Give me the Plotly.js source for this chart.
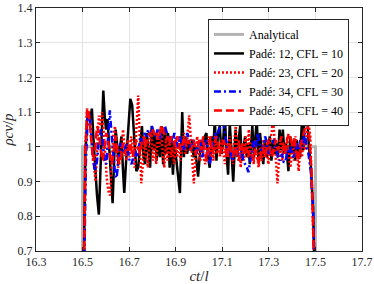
<!DOCTYPE html>
<html>
<head>
<meta charset="utf-8">
<script src="https://cdn.plot.ly/plotly-3.0.1.min.js"></script>
<style>html,body{margin:0;padding:0;background:#fff;}#chart{width:374px;height:284px;}</style>
</head>
<body>
<div id="chart"></div>
<script>
const seriesNames = ["Analytical", "Padé: 12, CFL = 10", "Padé: 23, CFL = 20", "Padé: 34, CFL = 30", "Padé: 45, CFL = 40"];
const xTicks = [16.3, 16.5, 16.7, 16.9, 17.1, 17.3, 17.5, 17.7];
const yTicks = [0.7, 0.8, 0.9, 1.0, 1.1, 1.2, 1.3, 1.4];
const yTickLabels = ["0.7", "0.8", "0.9", "1", "1.1", "1.2", "1.3", "1.4"];

const analyticalX = [16.3, 16.5, 16.5, 17.5, 17.5, 17.7];
const analyticalY = [0, 0, 1, 1, 0, 0];

const pade12 = [
[16.504,0.60],[16.512,0.98],[16.520,1.08],[16.527,1.10],[16.533,1.08],[16.540,1.11],[16.547,1.02],[16.554,0.93],[16.562,0.86],[16.570,0.805],
[16.577,0.92],[16.583,1.04],[16.589,1.162],[16.595,1.09],[16.601,1.05],[16.607,1.08],[16.614,0.99],[16.621,0.90],[16.629,0.838],[16.636,0.97],
[16.642,1.05],[16.648,1.01],[16.654,0.95],[16.661,1.00],[16.667,1.03],[16.673,0.94],[16.679,0.867],[16.687,0.96],[16.696,1.06],[16.705,1.138],
[16.713,1.12],[16.721,1.02],[16.731,0.93],[16.739,0.94],[16.747,1.01],[16.755,1.06],[16.762,0.97],[16.769,0.95],[16.776,1.04],[16.783,0.98],
[16.790,0.94],[16.797,1.06],[16.804,0.99],[16.811,1.04],[16.818,0.96],[16.825,1.03],[16.832,0.97],[16.839,1.06],[16.846,0.95],[16.853,1.05],
[16.860,0.98],[16.867,1.04],[16.874,0.94],[16.881,1.03],[16.888,0.92],[16.895,1.01],[16.902,0.97],[16.910,0.91],[16.918,0.867],[16.928,1.10],
[16.935,0.97],[16.942,1.03],[16.949,0.98],[16.956,1.01],[16.963,0.99],[16.970,1.02],[16.977,0.97],[16.983,1.00],[16.990,0.95],[16.996,0.914],
[17.004,0.98],[17.011,1.02],[17.018,0.99],[17.025,1.03],[17.032,1.04],[17.039,0.97],[17.046,0.94],[17.054,1.03],[17.061,0.99],[17.068,1.08],
[17.075,0.96],[17.082,1.04],[17.089,1.06],[17.097,0.98],[17.104,1.02],[17.111,1.09],[17.118,0.98],[17.125,0.92],[17.132,1.07],[17.140,0.98],
[17.147,0.90],[17.157,1.05],[17.164,0.97],[17.170,1.02],[17.177,1.06],[17.184,0.96],[17.191,1.00],[17.198,1.03],[17.205,0.97],[17.212,1.01],
[17.218,0.95],[17.229,1.06],[17.236,0.97],[17.242,1.02],[17.248,1.08],[17.255,0.96],[17.262,1.04],[17.269,0.99],[17.276,0.95],[17.283,1.02],
[17.290,0.97],[17.297,1.00],[17.304,1.03],[17.311,0.96],[17.318,1.02],[17.325,0.98],[17.332,1.01],[17.339,0.97],[17.346,1.05],[17.353,0.99],
[17.360,1.05],[17.367,0.98],[17.374,1.01],[17.384,0.93],[17.392,1.03],[17.399,0.98],[17.406,1.01],[17.413,0.96],[17.420,1.02],[17.427,0.98],
[17.434,0.97],[17.441,1.06],[17.448,0.99],[17.457,1.17],[17.465,1.06],[17.472,1.00],[17.480,0.95],[17.490,0.82],[17.497,0.60]
];

const pade23 = [
[16.505,0.60],[16.512,1.00],[16.519,1.11],[16.526,1.10],[16.533,1.05],[16.540,1.00],[16.548,0.94],[16.556,0.90],[16.563,1.00],[16.570,1.09],
[16.577,1.06],[16.584,1.10],[16.591,1.04],[16.598,0.96],[16.605,0.90],[16.612,0.87],[16.618,0.86],[16.625,0.95],[16.632,1.03],[16.639,1.06],
[16.646,0.98],[16.653,0.94],[16.660,0.97],[16.667,1.00],[16.674,1.05],[16.681,0.99],[16.688,0.96],[16.695,1.02],[16.702,0.97],[16.709,1.03],
[16.716,1.00],[16.723,0.94],[16.731,1.05],[16.739,1.148],[16.747,1.00],[16.752,0.895],[16.760,0.96],[16.767,1.03],[16.774,0.97],[16.781,0.94],
[16.788,1.02],[16.795,1.05],[16.802,0.96],[16.809,1.01],[16.816,0.95],[16.823,1.04],[16.830,1.00],[16.837,1.06],[16.844,0.98],[16.851,0.94],
[16.858,1.02],[16.865,0.96],[16.872,1.03],[16.879,0.97],[16.886,1.00],[16.893,0.95],[16.900,1.02],[16.907,0.97],[16.914,1.03],[16.921,0.96],
[16.928,1.00],[16.935,1.04],[16.942,0.98],[16.949,1.02],[16.958,1.091],[16.966,1.00],[16.978,0.895],[16.985,0.97],[16.992,1.03],[16.999,0.98],
[17.006,0.96],[17.013,1.02],[17.020,0.97],[17.027,0.95],[17.034,1.00],[17.041,1.03],[17.048,0.97],[17.055,1.01],[17.062,0.96],[17.069,1.04],
[17.076,0.98],[17.083,1.01],[17.090,0.97],[17.097,1.02],[17.104,0.99],[17.111,0.95],[17.118,1.01],[17.125,0.97],[17.132,1.03],[17.139,0.99],
[17.146,0.95],[17.152,1.02],[17.158,1.06],[17.165,0.97],[17.172,1.02],[17.179,0.94],[17.186,1.01],[17.193,0.96],[17.200,1.03],[17.207,0.98],
[17.214,1.05],[17.221,0.97],[17.228,1.01],[17.235,0.95],[17.242,1.02],[17.249,0.98],[17.256,0.94],[17.263,1.00],[17.270,0.96],[17.277,1.02],
[17.284,0.97],[17.291,1.00],[17.298,0.95],[17.305,1.02],[17.312,1.04],[17.318,1.086],[17.326,0.99],[17.337,0.895],[17.344,0.97],[17.351,1.02],
[17.358,0.96],[17.365,1.01],[17.372,0.98],[17.379,1.03],[17.386,0.97],[17.393,0.94],[17.400,1.01],[17.407,0.96],[17.414,1.03],[17.421,0.98],
[17.428,0.93],[17.435,1.00],[17.442,0.97],[17.449,1.02],[17.456,0.99],[17.463,1.04],[17.470,1.07],[17.478,1.03],[17.488,0.85],[17.497,0.60]
];

const pade34 = [
[16.506,0.60],[16.514,0.95],[16.522,1.08],[16.529,1.10],[16.536,1.05],[16.544,0.97],[16.553,0.93],[16.562,0.96],[16.570,1.02],[16.578,1.05],
[16.586,1.02],[16.594,0.96],[16.602,0.95],[16.610,1.04],[16.617,1.105],[16.624,1.04],[16.632,0.97],[16.640,0.92],[16.646,0.91],[16.654,0.96],
[16.662,1.01],[16.670,1.00],[16.678,0.98],[16.686,1.01],[16.694,0.99],[16.702,0.96],[16.710,0.95],[16.718,0.97],[16.726,0.99],[16.734,0.97],
[16.742,1.00],[16.750,1.03],[16.758,1.01],[16.766,1.04],[16.774,1.03],[16.782,1.05],[16.790,1.03],[16.798,1.06],[16.806,1.04],[16.814,1.03],
[16.822,1.05],[16.830,1.02],[16.838,1.04],[16.846,1.05],[16.854,1.06],[16.862,1.04],[16.870,1.02],[16.878,1.03],[16.886,1.01],[16.894,1.04],
[16.902,1.02],[16.910,1.00],[16.918,1.03],[16.926,1.01],[16.934,0.99],[16.942,1.02],[16.950,1.04],[16.958,1.01],[16.966,0.99],[16.974,1.02],
[16.982,1.00],[16.990,0.98],[16.998,1.01],[17.006,1.02],[17.014,0.97],[17.022,1.00],[17.030,1.02],[17.038,0.99],[17.046,0.95],[17.054,0.98],
[17.062,1.02],[17.070,1.04],[17.078,1.02],[17.086,1.05],[17.094,1.06],[17.102,1.076],[17.110,1.04],[17.118,1.01],[17.126,0.98],[17.134,1.00],
[17.142,0.96],[17.150,0.97],[17.158,1.00],[17.166,0.98],[17.174,0.97],[17.182,0.99],[17.190,0.96],[17.198,0.95],[17.206,0.94],[17.212,0.927],
[17.220,0.96],[17.228,1.00],[17.236,1.02],[17.244,1.00],[17.252,1.04],[17.260,1.01],[17.268,0.99],[17.276,1.00],[17.284,1.03],[17.292,1.01],
[17.300,0.98],[17.308,0.99],[17.316,1.01],[17.324,1.02],[17.332,0.99],[17.340,0.97],[17.348,0.96],[17.356,0.98],[17.364,0.955],[17.372,0.96],
[17.380,0.99],[17.388,0.98],[17.396,1.00],[17.404,0.97],[17.412,0.98],[17.420,1.01],[17.428,0.99],[17.436,1.02],[17.444,1.00],[17.454,1.04],
[17.462,1.00],[17.470,0.98],[17.480,0.93],[17.490,0.82],[17.498,0.60]
];

const pade45 = [
[16.505,0.60],[16.513,1.00],[16.520,1.11],[16.528,1.09],[16.536,1.03],[16.545,0.96],[16.554,0.99],[16.562,1.06],[16.570,1.04],[16.578,0.99],
[16.586,0.96],[16.594,1.00],[16.602,1.04],[16.610,1.02],[16.618,0.97],[16.626,0.95],[16.634,1.00],[16.642,1.03],[16.650,0.99],[16.658,0.95],
[16.666,0.97],[16.674,1.01],[16.682,0.98],[16.690,1.00],[16.698,0.99],[16.706,1.01],[16.714,0.97],[16.722,0.99],[16.730,1.02],[16.738,1.00],
[16.746,0.98],[16.754,1.01],[16.762,1.03],[16.770,1.00],[16.778,1.02],[16.786,1.04],[16.794,1.03],[16.802,1.05],[16.810,1.03],[16.818,1.04],
[16.826,1.02],[16.834,1.05],[16.842,1.06],[16.850,1.04],[16.858,1.02],[16.866,1.03],[16.874,1.01],[16.882,1.03],[16.890,1.02],[16.898,1.00],
[16.906,1.03],[16.914,1.01],[16.922,0.99],[16.930,1.01],[16.938,1.03],[16.946,1.00],[16.954,1.02],[16.962,0.99],[16.970,1.00],[16.978,1.02],
[16.986,0.98],[16.994,1.00],[17.002,1.02],[17.010,0.99],[17.018,1.03],[17.026,0.98],[17.034,0.96],[17.042,1.00],[17.050,1.03],[17.058,0.98],
[17.066,1.00],[17.074,1.03],[17.082,1.01],[17.090,0.98],[17.098,1.00],[17.106,1.02],[17.114,0.99],[17.122,0.97],[17.130,1.01],[17.138,0.99],
[17.146,0.97],[17.154,1.00],[17.162,0.98],[17.170,0.96],[17.178,0.99],[17.186,1.01],[17.194,0.98],[17.202,1.00],[17.210,0.97],[17.218,0.99],
[17.226,0.98],[17.234,0.96],[17.242,0.99],[17.250,0.97],[17.258,0.95],[17.266,0.98],[17.274,1.00],[17.282,0.97],[17.290,1.00],[17.298,1.02],
[17.306,0.99],[17.314,0.97],[17.322,1.00],[17.330,1.02],[17.338,0.99],[17.346,1.01],[17.354,1.03],[17.362,1.00],[17.370,0.98],[17.378,1.02],
[17.386,1.04],[17.394,1.02],[17.402,1.00],[17.410,1.03],[17.418,0.98],[17.426,0.96],[17.434,1.00],[17.442,1.02],[17.450,1.04],[17.458,1.06],
[17.466,1.07],[17.474,1.03],[17.484,0.92],[17.497,0.60]
];

const FONT = "Liberation Serif";
function tr(pts, name, color, dash, width) {
  return {
    x: pts.map(p => p[0]), y: pts.map(p => p[1]), name: name, type: 'scatter', mode: 'lines',
    line: {color: color, dash: dash, width: width}
  };
}
const data = [
  {x: analyticalX, y: analyticalY, name: seriesNames[0], type: 'scatter', mode: 'lines', line: {color: '#b3b3b3', width: 3}},
  tr(pade12, seriesNames[1], '#000000', 'solid', 2.5),
  tr(pade23, seriesNames[2], '#ff0000', '2px,2px', 2.5),
  tr(pade34, seriesNames[3], '#0000ff', '7px,3px,2px,3px', 2.5),
  tr(pade45, seriesNames[4], '#ff0000', '8px,4px', 2.5)
];
const axisCommon = {
  showline: true, linecolor: '#262626', linewidth: 1, mirror: 'ticks',
  ticks: 'inside', ticklen: 4, tickcolor: '#262626',
  showgrid: true, gridcolor: '#e3e3e3', gridwidth: 1, zeroline: false,
  ticklabeloverflow: 'allow',
  tickfont: {family: FONT, size: 12, color: '#262626'}
};
const layout = {
  width: 374, height: 284,
  font: {family: FONT, size: 12},
  margin: {l: 36, r: 12, t: 8, b: 33},
  paper_bgcolor: '#ffffff', plot_bgcolor: '#ffffff',
  showlegend: true,
  legend: {
    x: 0.96, y: 0.955, xanchor: 'right', yanchor: 'top',
    bgcolor: '#ffffff', bordercolor: '#262626', borderwidth: 1,
    font: {family: FONT, size: 12, color: '#000'},
    tracegroupgap: 0, itemwidth: 30
  },
  xaxis: Object.assign({}, axisCommon, {
    range: [16.3, 17.7], tickvals: xTicks, ticktext: xTicks.map(v => v.toFixed(1)),
    title: {text: '<i>ct</i>/<i>l</i>', font: {family: FONT, size: 15, color: '#262626'}, standoff: 3}
  }),
  yaxis: Object.assign({}, axisCommon, {
    range: [0.7, 1.4], tickvals: yTicks, ticktext: yTickLabels,
    title: {text: '<i>ρcv</i>/<i>p</i>', font: {family: FONT, size: 15, color: '#262626'}, standoff: 2}
  })
};
Plotly.newPlot('chart', data, layout, {staticPlot: true, displayModeBar: false});
</script>
</body>
</html>
